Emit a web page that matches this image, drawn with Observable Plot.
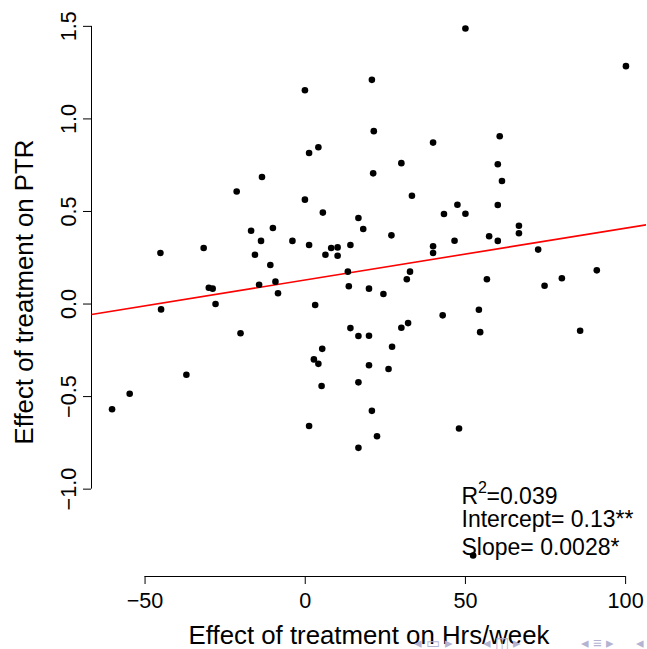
<!DOCTYPE html>
<html>
<head>
<meta charset="utf-8">
<script src="https://cdn.jsdelivr.net/npm/d3@7"></script>
<script src="https://cdn.jsdelivr.net/npm/@observablehq/plot@0.6"></script>
<style>
  html, body { margin: 0; padding: 0; background: #fff; }
  #chart { width: 647px; height: 649px; }
</style>
</head>
<body>
<div id="chart"></div>
<script>
// Effect of treatment on Hrs/week (x) and on PTR (y)
const hrsWeek = [
  -13.5, -21.4, 50.0, 20.8, -0.1, 21.4, 39.9, 4.1, 1.2, 30.0,
  21.2, 33.3, -0.1, 47.5, 100.1, 60.7, 60.1, 61.4, 60.1, -16.9,
  -10.1, -13.8, -4.0, -45.2, -31.7, -15.7, -10.9, -30.1, -28.9, -14.4,
  -9.3, -8.5, -45.0, -28.0, -20.2, -37.1, 5.5, 16.6, 18.1, 43.3,
  50.0, 1.2, 8.1, 10.1, 6.3, 10.1, 14.1, 26.9, 39.9, 39.9,
  46.6, 57.4, 13.3, 32.7, 31.7, 13.6, 19.9, 24.4, 56.7, 3.1,
  42.9, 54.2, 14.1, 16.6, 19.9, 30.0, 32.1, 54.6, 5.3, 2.7,
  4.1, 19.9, 27.1, 26.0, 16.6, 66.7, 66.7, 60.1, 72.7, 91.0,
  74.7, 80.1, 85.8, -54.8, -60.3, 5.1, 20.8, 1.2, 22.4, 16.6,
  48.0, 52.4
];
const ptr = [
  0.686, 0.608, 1.488, 1.211, 1.155, 0.934, 0.872, 0.847, 0.816, 0.761,
  0.706, 0.585, 0.564, 0.536, 1.285, 0.906, 0.755, 0.665, 0.535, 0.396,
  0.411, 0.341, 0.341, 0.276, 0.303, 0.266, 0.211, 0.088, 0.083, 0.104,
  0.121, 0.058, -0.029, 0.000, -0.158, -0.382, 0.494, 0.465, 0.405, 0.486,
  0.488, 0.319, 0.303, 0.306, 0.266, 0.261, 0.319, 0.371, 0.312, 0.276,
  0.342, 0.366, 0.175, 0.175, 0.134, 0.096, 0.083, 0.054, 0.134, -0.005,
  -0.061, -0.031, -0.130, -0.173, -0.171, -0.128, -0.103, -0.152, -0.242, -0.299,
  -0.323, -0.331, -0.231, -0.351, -0.423, 0.423, 0.382, 0.341, 0.294, 0.182,
  0.099, 0.139, -0.144, -0.485, -0.568, -0.443, -0.577, -0.659, -0.714, -0.777,
  -0.672, -1.358
];
const xTicks = [-50, 0, 50, 100];
const yTicks = [-1.0, -0.5, 0.0, 0.5, 1.0, 1.5];
const fitIntercept = 0.13;
const fitSlope = 0.0028;
const r2Parts = ["R", "2", "=0.039"];
const statLines = ["Intercept= 0.13**", "Slope= 0.0028*"];
const xTitle = "Effect of treatment on Hrs/week";
const yTitle = "Effect of treatment on PTR";
const navSymbols = "\u25C2 \u25AD \u25B8\u2003\u2003\u25C2 \u25EB \u25B8\u2003\u2003\u2003\u2003\u25C2 \u2261 \u25B8\u2003\u2002\u25C2";

const points = hrsWeek.map((x, i) => ({x, y: ptr[i]}));

// R-style 4% padding around the data range
function padded(vals) {
  const [lo, hi] = d3.extent(vals);
  const p = (hi - lo) * 0.04;
  return [lo - p, hi + p];
}
const xDomain = padded(hrsWeek);
const yDomain = padded(ptr);
const fitLine = [{
  x1: xDomain[0], y1: fitIntercept + fitSlope * xDomain[0],
  x2: xDomain[1], y2: fitIntercept + fitSlope * xDomain[1]
}];

const fmtX = d => d3.format("d")(d);
const fmtY = d => d3.format(".1f")(d);
const FONT = "'Liberation Sans', Arial, Helvetica, sans-serif";
const statStyle = { frameAnchor: "bottom-right", textAnchor: "start", lineAnchor: "bottom", fill: "#000" };

const chart = Plot.plot({
  width: 647,
  height: 649,
  marginLeft: 91,
  marginRight: 1,
  marginTop: 7,
  marginBottom: 73,
  style: { fontFamily: FONT, background: "#fff", color: "#000" },
  x: { domain: xDomain, axis: null },
  y: { domain: yDomain, axis: null },
  marks: [
    // axis lines (R style, only between first and last tick)
    Plot.ruleY([yDomain[0]], { x1: xTicks[0], x2: xTicks[xTicks.length - 1], stroke: "#000", strokeWidth: 1 }),
    Plot.ruleX([xDomain[0]], { y1: yTicks[0], y2: yTicks[yTicks.length - 1], stroke: "#000", strokeWidth: 1 }),
    Plot.axisX({ ticks: xTicks, tickSize: 8, tickPadding: 8, tickFormat: fmtX, fontSize: 21.6, stroke: "#000", fill: "#000", label: null }),
    Plot.axisY({ ticks: yTicks, tickSize: 8, tickPadding: 8, tickRotate: -90, tickFormat: fmtY, fontSize: 21.6, stroke: "#000", fill: "#000", label: null }),
    // regression line
    Plot.link(fitLine, { x1: "x1", y1: "y1", x2: "x2", y2: "y2", stroke: "#ff0000", strokeWidth: 1.6, clip: true }),
    // points
    Plot.dot(points, { x: "x", y: "y", r: 3.3, fill: "#000", stroke: null }),
    // axis titles
    Plot.text([xTitle], { text: d => d, frameAnchor: "bottom", dy: 67, textAnchor: "middle", lineAnchor: "bottom", fontSize: 25.8, fill: "#000" }),
    Plot.text([yTitle], { text: d => d, frameAnchor: "left", dx: -59, rotate: -90, textAnchor: "middle", lineAnchor: "bottom", fontSize: 25.8, fill: "#000" }),
    // statistics annotation
    Plot.text([r2Parts[0]], { ...statStyle, text: d => d, dx: -185, dy: -73, fontSize: 23 }),
    Plot.text([r2Parts[1]], { ...statStyle, text: d => d, dx: -168.5, dy: -83.5, fontSize: 16 }),
    Plot.text([r2Parts[2]], { ...statStyle, text: d => d, dx: -160, dy: -73, fontSize: 23 }),
    Plot.text([statLines[0]], { ...statStyle, text: d => d, dx: -185, dy: -50, fontSize: 23 }),
    Plot.text([statLines[1]], { ...statStyle, text: d => d, dx: -185, dy: -22, fontSize: 23 }),
    // beamer navigation symbols
    Plot.text([navSymbols], { text: d => d, frameAnchor: "bottom-right", dx: -2, dy: 71, textAnchor: "end", lineAnchor: "bottom", fontSize: 15, fill: "#b4b4d2" })
  ]
});
document.getElementById("chart").appendChild(chart);
</script>
</body>
</html>
